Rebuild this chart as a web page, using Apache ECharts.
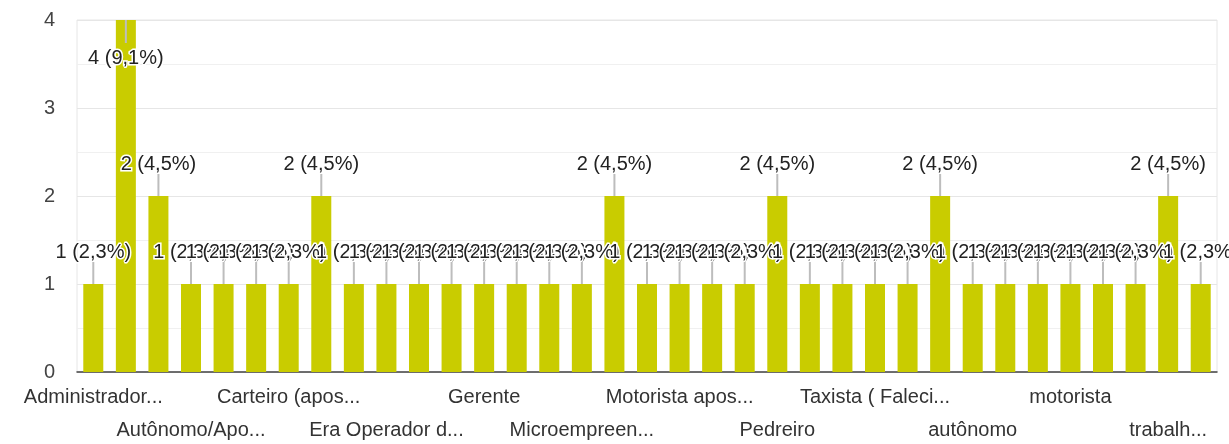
<!DOCTYPE html>
<html lang="pt-BR">

<head>
  <meta charset="utf-8" />
  <title></title>
  <script src="https://cdn.jsdelivr.net/npm/echarts@6/dist/echarts.min.js"></script>
  <style>
    * {
      margin: 0;
      padding: 0;
    }

    #chart-container {
      position: relative;
      width: 1229px;
      height: 444px;
      overflow: hidden;
      background: #fff;
    }
  </style>
</head>

<body>
  <div id="chart-container"></div>

  <script>
    // only every third name is readable in the picture, the rest stay blank
    var categories = [
      "Administrador...", "", "",
      "Autônomo/Apo...", "", "",
      "Carteiro (apos...", "", "",
      "Era Operador d...", "", "",
      "Gerente", "", "",
      "Microempreen...", "", "",
      "Motorista apos...", "", "",
      "Pedreiro", "", "",
      "Taxista ( Faleci...", "", "",
      "autônomo", "", "",
      "motorista", "", "",
      "trabalh...", ""
    ];

    var counts = [
      1, 4, 2, 1, 1, 1, 1, 2, 1, 1,
      1, 1, 1, 1, 1, 1, 2, 1, 1, 1,
      1, 2, 1, 1, 1, 1, 2, 1, 1, 1,
      1, 1, 1, 2, 1
    ];

    var yTicks = [0, 1, 2, 3, 4];
  </script>

  <script>
    var dom = document.getElementById("chart-container");
    var myChart = echarts.init(dom, null, { renderer: "canvas" });

    var total = counts.reduce(function (a, b) { return a + b; }, 0);
    var maxCount = Math.max.apply(null, counts);
    var font = "'Liberation Sans', Arial, sans-serif";

    function pctLabel(v) {
      return v + " (" + (v / total * 100).toFixed(1).replace(".", ",") + "%)";
    }

    // names alternate between two rows under the axis
    function rowLabels(row, margin) {
      return {
        interval: 2,
        showMinLabel: true,
        showMaxLabel: true,
        hideOverlap: false,
        margin: margin,
        fontSize: 20,
        color: "#333",
        fontFamily: font,
        formatter: function (value, index) {
          return (index / 3) % 2 === row ? value : "";
        }
      };
    }

    var barData = counts.map(function (v) {
      var item = { value: v };
      if (v === maxCount) {
        item.label = { position: "insideTop", distance: 28 };
      }
      return item;
    });

    var option = {
      animation: false,
      grid: {
        left: 77,
        right: 12,
        top: 20,
        bottom: 72,
        outerBoundsMode: "none",
        containLabel: false,
        show: true,
        borderColor: "#e6e6e6",
        borderWidth: 1
      },
      xAxis: [
        {
          type: "category",
          data: categories,
          axisTick: { show: false },
          axisLine: { lineStyle: { color: "#444", width: 1.5 } },
          axisLabel: rowLabels(0, 15)
        },
        {
          type: "category",
          position: "bottom",
          data: categories,
          axisTick: { show: false },
          axisLine: { show: false },
          splitLine: { show: false },
          axisLabel: rowLabels(1, 48)
        }
      ],
      yAxis: {
        type: "value",
        min: yTicks[0],
        max: yTicks[yTicks.length - 1],
        interval: 1,
        axisLine: { show: false },
        axisTick: { show: false },
        axisLabel: { margin: 22, fontSize: 20, color: "#444", fontFamily: font },
        splitLine: { lineStyle: { color: "#e6e6e6" } },
        minorTick: { show: false, splitNumber: 2 },
        minorSplitLine: { show: true, lineStyle: { color: "#f0f0f0" } }
      },
      series: [
        {
          type: "bar",
          data: barData,
          barWidth: 20,
          itemStyle: { color: "#c9cc00" },
          z: 2,
          label: {
            show: true,
            position: "top",
            distance: 22,
            fontSize: 20,
            color: "#222",
            fontFamily: font,
            textBorderColor: "#fff",
            textBorderWidth: 3,
            formatter: function (p) { return pctLabel(p.value); }
          }
        },
        {
          // leader lines between each bar and its label
          type: "custom",
          z: 3,
          silent: true,
          data: counts.map(function (v, i) { return [i, v]; }),
          renderItem: function (params, api) {
            var v = api.value(1);
            var pt = api.coord([api.value(0), v]);
            var len = v === maxCount ? 23 : -22;
            return {
              type: "line",
              shape: { x1: pt[0], y1: pt[1], x2: pt[0], y2: pt[1] + len },
              style: { stroke: "#bdbdbd", lineWidth: 2 }
            };
          }
        }
      ]
    };

    myChart.setOption(option);

    window.addEventListener("resize", myChart.resize);
  </script>
</body>

</html>
